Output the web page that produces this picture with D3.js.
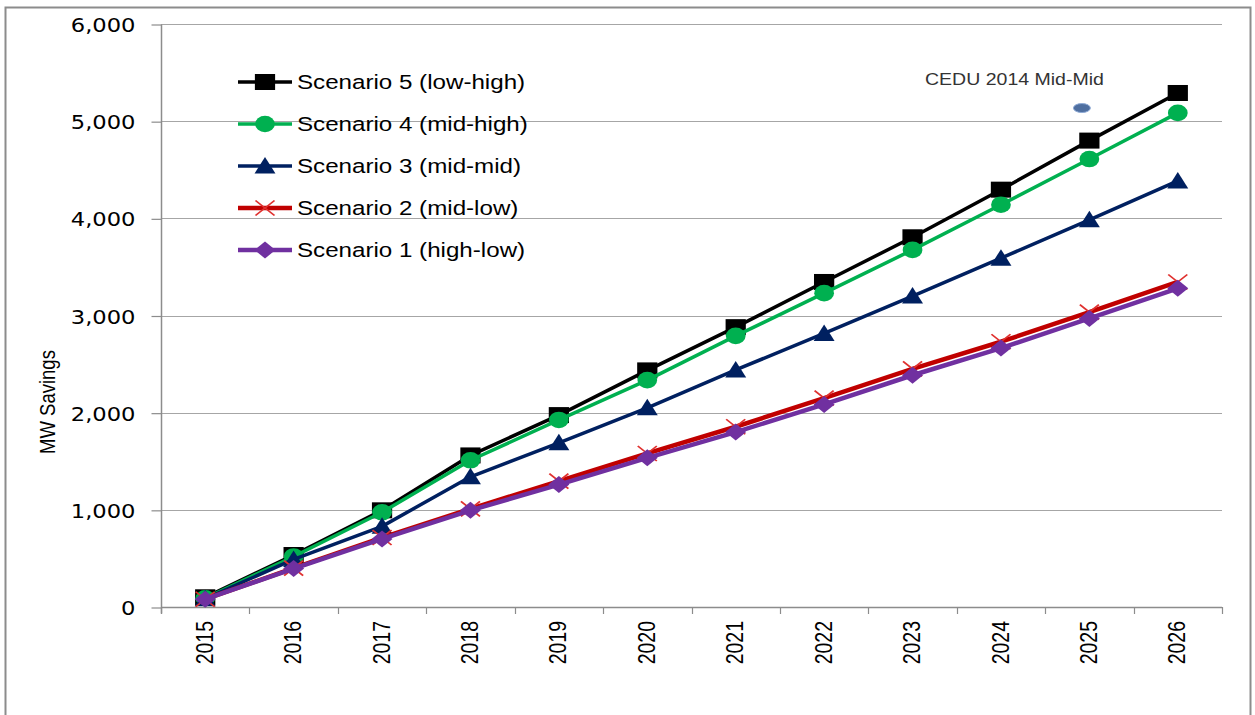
<!DOCTYPE html>
<html>
<head>
<meta charset="utf-8">
<script src="https://cdn.jsdelivr.net/npm/d3@7"></script>
<style>
  html, body { margin: 0; padding: 0; background: #fff; }
  svg { display: block; }
</style>
</head>
<body>
<svg id="chart" width="1255" height="715"></svg>
<script>
// ---------------- data ----------------
const years = ["2015","2016","2017","2018","2019","2020","2021","2022","2023","2024","2025","2026"];
const scenario5 = [100, 535, 995, 1560, 1975, 2435, 2880, 3345, 3805, 4295, 4800, 5290];
const scenario4 = [90, 520, 975, 1510, 1925, 2335, 2790, 3230, 3675, 4140, 4610, 5085];
const scenario3 = [85, 490, 830, 1340, 1690, 2050, 2440, 2815, 3200, 3590, 3985, 4385];
const scenario2 = [80, 400, 715, 1010, 1295, 1580, 1855, 2150, 2450, 2730, 3035, 3345];
const scenario1 = [80, 395, 700, 995, 1260, 1535, 1800, 2085, 2385, 2665, 2970, 3280];
const seriesNames = ["Scenario 5 (low-high)", "Scenario 4 (mid-high)", "Scenario 3 (mid-mid)", "Scenario 2 (mid-low)", "Scenario 1 (high-low)"];
const yTicks = [0, 1000, 2000, 3000, 4000, 5000, 6000];
const yTitle = "MW Savings";
const ceduYear = "2025";
const ceduValue = 5135;
const ceduLabel = "CEDU 2014 Mid-Mid";

// ---------------- styles ----------------
const SX = 1.19; // horizontal stretch of the original picture
const styles = [
  { color: "#000000", width: 3.5, marker: "square" },
  { color: "#00b050", width: 3.5, marker: "circle" },
  { color: "#002060", width: 3.5, marker: "triangle" },
  { color: "#c00000", width: 4.5, marker: "x" },
  { color: "#7030a0", width: 4.5, marker: "diamond" }
];
const seriesValues = [scenario5, scenario4, scenario3, scenario2, scenario1];

const svg = d3.select("#chart");
svg.append("rect").attr("width", 1255).attr("height", 715).attr("fill", "#fff");

// outer border
svg.append("rect")
  .attr("x", 5.5).attr("y", 7.5).attr("width", 1245).attr("height", 730)
  .attr("fill", "none").attr("stroke", "#8c8c8c").attr("stroke-width", 2);

const plot = { left: 161, right: 1222, top: 24, bottom: 607 };
const x = d3.scaleBand().domain(years).range([plot.left, plot.right]).padding(0);
const y = d3.scaleLinear().domain([0, 6000]).range([plot.bottom, plot.top]);
const cx = d => x(d) + x.bandwidth() / 2;

const gridColor = "#a6a6a6";
const axisColor = "#8c8c8c";

// gridlines
svg.append("g").selectAll("line").data(yTicks.filter(t => t > 0)).join("line")
  .attr("x1", plot.left).attr("x2", plot.right)
  .attr("y1", d => Math.round(y(d)) + 0.5).attr("y2", d => Math.round(y(d)) + 0.5)
  .attr("stroke", gridColor).attr("stroke-width", 1.2);

// y axis
const yAxis = svg.append("g")
  .attr("transform", `translate(${plot.left + 0.5},0.5)`)
  .call(d3.axisLeft(y).tickValues(yTicks).tickSize(10).tickSizeOuter(0).tickFormat(d3.format(",")));
yAxis.select(".domain").attr("stroke", axisColor).attr("stroke-width", 1.5)
  .attr("d", `M0,${plot.top}V${plot.bottom + 6}`);
yAxis.selectAll(".tick line").attr("stroke", axisColor).attr("stroke-width", 1.2);
yAxis.selectAll(".tick text")
  .attr("x", null).attr("dy", null)
  .attr("transform", "translate(-26,7) scale(" + SX + ",1)")
  .attr("text-anchor", "end")
  .style("font-family", "'DejaVu Sans', Verdana, sans-serif")
  .style("font-size", "19px")
  .attr("fill", "#000");

// x axis line + boundary ticks
svg.append("line")
  .attr("x1", plot.left).attr("x2", plot.right)
  .attr("y1", plot.bottom + 0.5).attr("y2", plot.bottom + 0.5)
  .attr("stroke", axisColor).attr("stroke-width", 1.5);
const bounds = d3.range(years.length + 1).map(i => plot.left + i * x.step());
svg.append("g").selectAll("line").data(bounds).join("line")
  .attr("x1", d => Math.round(d) + 0.5).attr("x2", d => Math.round(d) + 0.5)
  .attr("y1", plot.bottom).attr("y2", plot.bottom + 7)
  .attr("stroke", axisColor).attr("stroke-width", 1.2);

const xAxis = svg.append("g")
  .attr("transform", `translate(0,${plot.bottom})`)
  .call(d3.axisBottom(x).tickSize(0));
xAxis.select(".domain").remove();
xAxis.selectAll(".tick text")
  .attr("y", null).attr("dy", null)
  .attr("transform", "translate(0,14) scale(" + SX + ",1) rotate(-90)")
  .attr("text-anchor", "end")
  .attr("dominant-baseline", "central")
  .style("font-family", "'Liberation Sans', Arial, sans-serif")
  .style("font-size", "19.5px")
  .attr("fill", "#000");

// y title
svg.append("text")
  .attr("transform", `translate(55,402) scale(${SX},1) rotate(-90)`)
  .attr("text-anchor", "middle")
  .style("font-family", "'Liberation Sans', Arial, sans-serif")
  .style("font-size", "18.5px")
  .attr("fill", "#000")
  .text(yTitle);

// marker drawing
function drawMarker(g, type, color) {
  if (type === "square") {
    g.append("rect").attr("x", -8.5).attr("y", -8).attr("width", 17).attr("height", 16).attr("fill", color);
  } else if (type === "circle") {
    g.append("circle").attr("r", 8.3).attr("fill", color);
  } else if (type === "triangle") {
    g.append("path").attr("d", "M0,-9L8.8,7.5L-8.8,7.5Z").attr("fill", color);
  } else if (type === "diamond") {
    g.append("path").attr("d", "M0,-8.5L8.8,0L0,8.5L-8.8,0Z").attr("fill", color);
  } else if (type === "x") {
    g.append("path").attr("d", "M-8,-7.5L8,7.5M-8,7.5L8,-7.5")
      .attr("stroke", "#e0312f").attr("stroke-width", 1.6).attr("fill", "none");
  }
}

// series
const line = d3.line().x((d, i) => cx(years[i])).y(d => y(d));
seriesValues.forEach((vals, si) => {
  const st = styles[si];
  const g = svg.append("g");
  g.append("path").datum(vals).attr("d", line)
    .attr("fill", "none").attr("stroke", st.color).attr("stroke-width", st.width)
    .attr("stroke-linejoin", "round");
  g.selectAll("g.m").data(vals).join("g").attr("class", "m")
    .attr("transform", (d, i) => `translate(${cx(years[i])},${y(d)}) scale(${SX},1)`)
    .each(function () { drawMarker(d3.select(this), st.marker, st.color); });
});

// CEDU point and label
svg.append("ellipse")
  .attr("cx", cx(ceduYear) - 7.5).attr("cy", y(ceduValue))
  .attr("rx", 8.5).attr("ry", 4.5)
  .attr("fill", "#4f6fa0").attr("stroke", "#8eaad6").attr("stroke-width", 1);
svg.append("text")
  .attr("transform", `translate(925,85) scale(${SX},1)`)
  .style("font-family", "'Liberation Sans', Arial, sans-serif")
  .style("font-size", "16.4px")
  .attr("fill", "#333")
  .text(ceduLabel);

// legend
const legend = svg.append("g");
seriesNames.forEach((name, i) => {
  const st = styles[i];
  const ly = 82 + i * 42;
  legend.append("line").attr("x1", 238).attr("x2", 292).attr("y1", ly).attr("y2", ly)
    .attr("stroke", st.color).attr("stroke-width", st.width);
  const mg = legend.append("g").attr("transform", `translate(265,${ly}) scale(${SX},1)`);
  drawMarker(mg, st.marker, st.color);
  legend.append("text")
    .attr("transform", `translate(297,${ly + 7}) scale(${SX},1)`)
    .style("font-family", "'Liberation Sans', Arial, sans-serif")
    .style("font-size", "20.3px")
    .attr("fill", "#000")
    .text(name);
});
</script>
</body>
</html>
